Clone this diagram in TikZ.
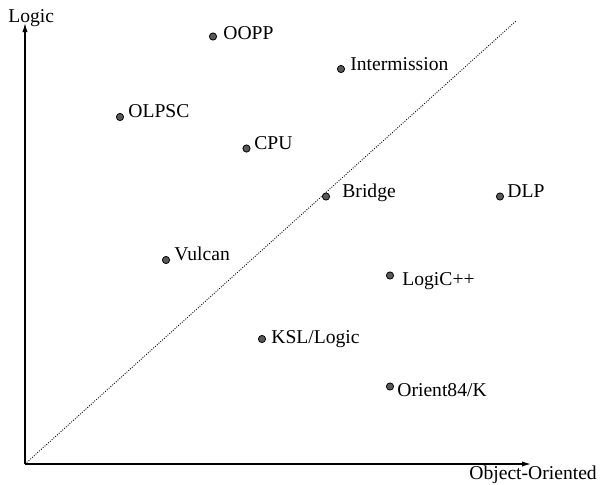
\documentclass[tikz,border=0pt]{standalone}
\usepackage{fontspec}
\setmainfont{Liberation Serif}
\usetikzlibrary{arrows.meta}
\begin{document}
\begin{tikzpicture}[x=0.5pt,y=-0.5pt,
  dotmark/.style={circle,draw=black,line width=0.4pt,fill=black!65,minimum size=3.6pt,inner sep=0pt},
  lab/.style={anchor=base west,inner sep=0pt,font=\fontsize{9.8}{12}\selectfont},
  axis/.style={line width=0.6pt,-{Latex[length=4.5pt,width=2.6pt]}},
  diag/.style={line width=0.45pt,dash pattern=on 0.45pt off 0.75pt}]
\useasboundingbox (0,0) rectangle (600,484);

% axes
\coordinate (o) at (25,464);
\coordinate (ytop) at (25,23);
\coordinate (xend) at (531,464);
\coordinate (dend) at (516,21);
\draw[axis] (o) -- (ytop);
\draw[axis] (o) -- (xend);
\node[lab] (ylab) at (8,22) {Logic};
\node[lab] (xlab) at (469,479) {Object-Oriented};

% diagonal
\draw[diag] (o) -- (dend);

% systems
\node[dotmark] (oopp) at (213,36.5) {};
\node[lab] (oopplab) at (223,39) {OOPP};
\node[dotmark] (inter) at (341,69) {};
\node[lab] (interlab) at (350,70) {Intermission};
\node[dotmark] (olpsc) at (120,117) {};
\node[lab] (olpsclab) at (128,117) {OLPSC};
\node[dotmark] (cpu) at (246.5,148.5) {};
\node[lab] (cpulab) at (254,149) {CPU};
\node[dotmark] (bridge) at (326,196.5) {};
\node[lab] (bridgelab) at (342,197) {Bridge};
\node[dotmark] (dlp) at (500,196.5) {};
\node[lab] (dlplab) at (507,197) {DLP};
\node[dotmark] (vulcan) at (166,260) {};
\node[lab] (vulcanlab) at (174,260) {Vulcan};
\node[dotmark] (logicpp) at (390,275.5) {};
\node[lab] (logicpplab) at (402,285) {LogiC++};
\node[dotmark] (ksl) at (262,339) {};
\node[lab] (ksllab) at (271,343) {KSL/Logic};
\node[dotmark] (orient) at (390,386.5) {};
\node[lab] (orientlab) at (397,396) {Orient84/K};
\end{tikzpicture}
\end{document}
